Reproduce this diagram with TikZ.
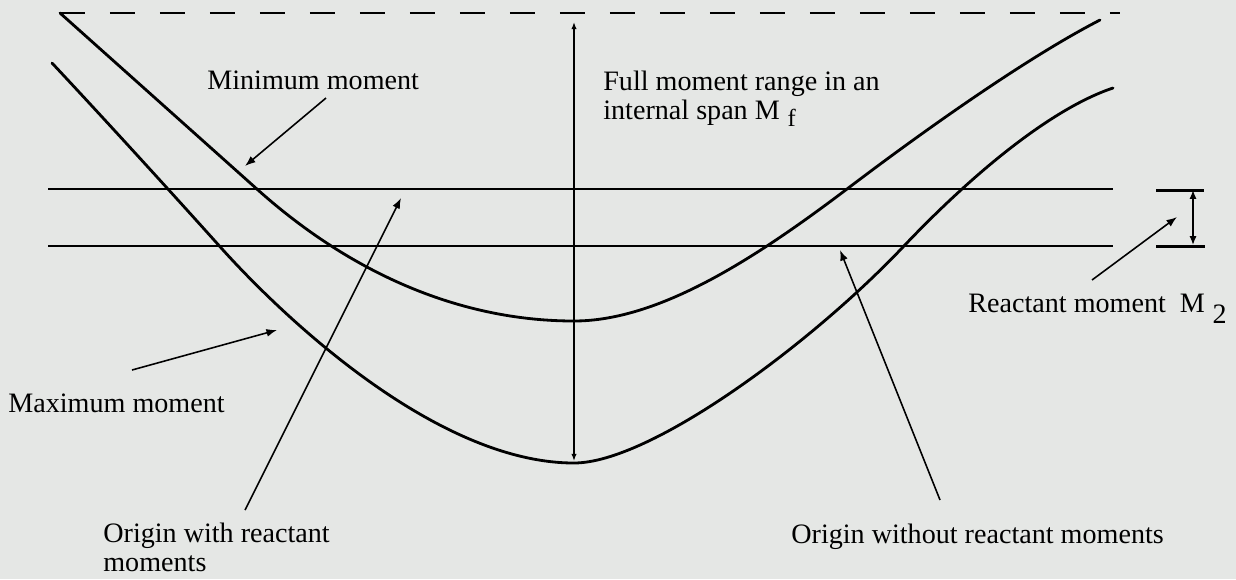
\documentclass[tikz,border=0pt]{standalone}
\usepackage{fontspec}
\setmainfont{Liberation Serif}
\usetikzlibrary{arrows.meta}

\definecolor{papir}{RGB}{229,231,229}
\tikzset{
  popis/.style={font=\fontsize{16}{16.5}\selectfont, inner sep=0pt},
  krivka/.style={line width=1.6pt, line cap=round},
  primka/.style={line width=1.1pt},
  sipka/.style={line width=0.9pt, -{Latex[length=6pt,width=4.5pt]}},
}

\begin{document}
\begin{tikzpicture}[x=0.02cm, y=-0.02cm]
        \fill[papir] (0,0) rectangle (1236,579);
        \useasboundingbox (0,0) rectangle (1236,579);

        % horni carkovana cara
        \draw[line width=1.3pt, dash pattern=on 0.5cm off 0.5cm]
        (60,13) -- (1120,13);

        % minimalni moment
        \draw[krivka] (60,13) -- (258,190)
        .. controls (360,281) and (470,321) .. (574,321)
        .. controls (660,321) and (757,257) .. (847,189)
        .. controls (930,126) and (1030,56) .. (1100,20);

        % maximalni moment
        \draw[krivka] (52,63) .. controls (110,125) and (180,202) .. (223,250)
        .. controls (290,324) and (440,463) .. (574,463)
        .. controls (650,463) and (810,345) .. (903,247)
        .. controls (975,171) and (1053,108) .. (1113,88);

        % vodorovne cary
        \draw[primka] (48,189) -- (1113,189);
        \draw[primka] (48,246) -- (1113,246);

        % plny rozsah momentu
        \coordinate (Ftop) at (574,22);
        \coordinate (Fbot) at (574,461);
        \draw[line width=0.9pt, {Latex[length=4pt,width=3pt]}-{Latex[length=4pt,width=3pt]}] (Ftop) -- (Fbot);

        % zavorka M2
        \coordinate (Ra) at (1193,190);
        \coordinate (Rb) at (1193,245);
        \draw[line width=1.7pt] (1156,190) -- (1204,190);
        \draw[line width=1.7pt] (1156,246) -- (1205,246);
        \draw[line width=0.9pt, {Latex[length=5pt,width=4pt]}-{Latex[length=5pt,width=4pt]}] (Ra) -- (Rb);

        % popisky
        \node[popis, anchor=base west] (minlbl) at (207,89) {Minimum moment};
        \node[popis, anchor=north west, align=left] (fulllbl) at (603,71)
        {Full moment range in an\\internal span M\;\raisebox{-.55ex}{\fontsize{14}{14}\selectfont f}};
        \node[popis, anchor=base west] (reactlbl) at (968,312)
        {Reactant moment \ M\;\raisebox{-.9ex}{2}};
        \node[popis, anchor=base west] (maxlbl) at (8,412) {Maximum moment};
        \node[popis, anchor=north west, align=left] (withlbl) at (103,523)
        {Origin with reactant\\moments};
        \node[popis, anchor=base west] (withoutlbl) at (791,543)
        {Origin without reactant moments};

        % sipky
        \coordinate (minA) at (326,98);   \coordinate (minB) at (245,166);
        \coordinate (maxA) at (132,370);  \coordinate (maxB) at (277,330);
        \coordinate (withA) at (245,510); \coordinate (withB) at (401,198);
        \coordinate (woA) at (940,500);   \coordinate (woB) at (840,250);
        \coordinate (reA) at (1092,280);  \coordinate (reB) at (1177,217);
        \draw[sipka] (minA) -- (minB);
        \draw[sipka] (maxA) -- (maxB);
        \draw[sipka] (withA) -- (withB);
        \draw[sipka] (woA) -- (woB);
        \draw[sipka] (reA) -- (reB);
\end{tikzpicture}
\end{document}
